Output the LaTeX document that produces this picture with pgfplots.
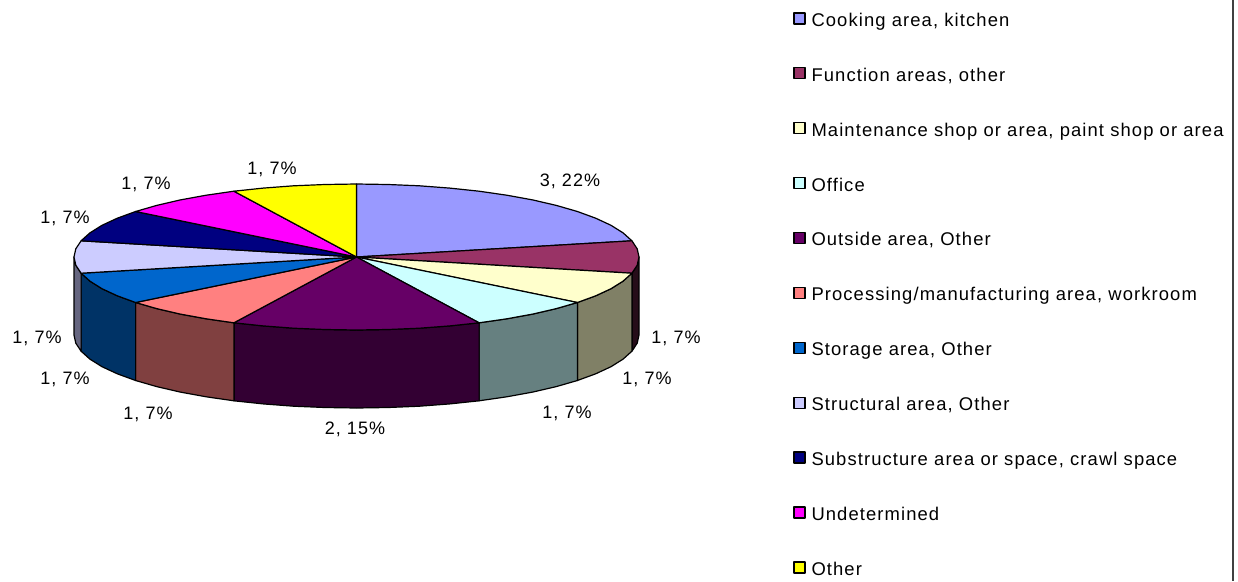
\documentclass[border=0pt]{standalone}
\usepackage{fontspec}
\setmainfont[LetterSpace=6]{Liberation Sans}
\usepackage{pgfplots}
\pgfplotsset{compat=1.18}

\definecolor{cCook}{HTML}{9999FF}
\definecolor{cFunc}{HTML}{993366}
\definecolor{cMaint}{HTML}{FFFFCC}
\definecolor{cOffice}{HTML}{CCFFFF}
\definecolor{cOut}{HTML}{660066}
\definecolor{cProc}{HTML}{FF8080}
\definecolor{cStor}{HTML}{0066CC}
\definecolor{cStruct}{HTML}{CCCCFF}
\definecolor{cSub}{HTML}{000080}
\definecolor{cUnd}{HTML}{FF00FF}
\definecolor{cOther}{HTML}{FFFF00}

\begin{document}
\fontsize{18pt}{20pt}\selectfont
\begin{tikzpicture}
\useasboundingbox (0,0) rectangle (1238pt,581pt);
\begin{axis}[
	anchor=south west,
	at={(0,0)},
	scale only axis,
	width=1238pt,
	height=581pt,
	xmin=0, xmax=1238,
	ymin=0, ymax=581,
	y dir=reverse,
	hide axis,
	clip=false,
	legend cell align=left,
	legend image code/.code={\draw[#1,line width=1.3pt] (0pt,-2pt) rectangle (11pt,9pt);},
	legend style={
		at={(axis cs:790,10)}, anchor=north west,
		draw=none, fill=none,
		row sep=36.75pt, column sep=6pt,
		nodes={inner sep=0pt, text height=13pt, text depth=4pt},
		font=\fontsize{18.4pt}{20pt}\selectfont,
	},
	every axis plot/.append style={line join=round},
]

% side walls
\addplot[forget plot, fill=black!75!cFunc, draw=black, line width=1.2pt] coordinates {
	(639,257)(637.2,265.2)(631.9,273.2)(631.9,351.2)(637.2,343.2)(639,335)} -- cycle;
\addplot[forget plot, fill=black!50!cMaint, draw=black, line width=1.2pt] coordinates {
	(631.9,273.2)(623.1,281.1)(611,288.7)(595.7,295.8)(577.4,302.5)
	(577.4,380.5)(595.7,373.8)(611,366.7)(623.1,359.1)(631.9,351.2)} -- cycle;
\addplot[forget plot, fill=black!50!cOffice, draw=black, line width=1.2pt] coordinates {
	(577.4,302.5)(556.3,308.6)(532.6,314.1)(506.8,318.8)(479.1,322.8)
	(479.1,400.8)(506.8,396.8)(532.6,392.1)(556.3,386.6)(577.4,380.5)} -- cycle;
\addplot[forget plot, fill=black!50!cOut, draw=black, line width=1.2pt] coordinates {
	(479.1,322.8)(449.8,325.9)(419.4,328.2)(388.1,329.5)(356.5,330)(324.9,329.5)(293.6,328.2)(263.2,325.9)(233.9,322.8)
	(233.9,400.8)(263.2,403.9)(293.6,406.2)(324.9,407.5)(356.5,408)(388.1,407.5)(419.4,406.2)(449.8,403.9)(479.1,400.8)} -- cycle;
\addplot[forget plot, fill=black!50!cProc, draw=black, line width=1.2pt] coordinates {
	(233.9,322.8)(206.2,318.8)(180.4,314.1)(156.7,308.6)(135.6,302.5)
	(135.6,380.5)(156.7,386.6)(180.4,392.1)(206.2,396.8)(233.9,400.8)} -- cycle;
\addplot[forget plot, fill=black!50!cStor, draw=black, line width=1.2pt] coordinates {
	(135.6,302.5)(117.3,295.8)(102,288.7)(89.9,281.1)(81.1,273.2)
	(81.1,351.2)(89.9,359.1)(102,366.7)(117.3,373.8)(135.6,380.5)} -- cycle;
\addplot[forget plot, fill=black!50!cStruct, draw=black, line width=1.2pt] coordinates {
	(81.1,273.2)(75.8,265.2)(74,257)(74,335)(75.8,343.2)(81.1,351.2)} -- cycle;

% top faces
\addplot[fill=cCook, draw=black, line width=1.2pt] coordinates {
	(356.5,257)(356.5,184)(388.1,184.5)(419.4,185.8)(449.8,188.1)(479.1,191.2)(506.8,195.2)(532.6,199.9)(556.3,205.4)(577.4,211.5)(595.7,218.2)(611,225.3)(623.1,232.9)(631.9,240.8)} -- cycle;
\addplot[fill=cFunc, draw=black, line width=1.2pt] coordinates {
	(356.5,257)(631.9,240.8)(637.2,248.8)(639,257)(637.2,265.2)(631.9,273.2)} -- cycle;
\addplot[fill=cMaint, draw=black, line width=1.2pt] coordinates {
	(356.5,257)(631.9,273.2)(623.1,281.1)(611,288.7)(595.7,295.8)(577.4,302.5)} -- cycle;
\addplot[fill=cOffice, draw=black, line width=1.2pt] coordinates {
	(356.5,257)(577.4,302.5)(556.3,308.6)(532.6,314.1)(506.8,318.8)(479.1,322.8)} -- cycle;
\addplot[fill=cOut, draw=black, line width=1.2pt] coordinates {
	(356.5,257)(479.1,322.8)(449.8,325.9)(419.4,328.2)(388.1,329.5)(356.5,330)(324.9,329.5)(293.6,328.2)(263.2,325.9)(233.9,322.8)} -- cycle;
\addplot[fill=cProc, draw=black, line width=1.2pt] coordinates {
	(356.5,257)(233.9,322.8)(206.2,318.8)(180.4,314.1)(156.7,308.6)(135.6,302.5)} -- cycle;
\addplot[fill=cStor, draw=black, line width=1.2pt] coordinates {
	(356.5,257)(135.6,302.5)(117.3,295.8)(102,288.7)(89.9,281.1)(81.1,273.2)} -- cycle;
\addplot[fill=cStruct, draw=black, line width=1.2pt] coordinates {
	(356.5,257)(81.1,273.2)(75.8,265.2)(74,257)(75.8,248.8)(81.1,240.8)} -- cycle;
\addplot[fill=cSub, draw=black, line width=1.2pt] coordinates {
	(356.5,257)(81.1,240.8)(89.9,232.9)(102,225.3)(117.3,218.2)(135.6,211.5)} -- cycle;
\addplot[fill=cUnd, draw=black, line width=1.2pt] coordinates {
	(356.5,257)(135.6,211.5)(156.7,205.4)(180.4,199.9)(206.2,195.2)(233.9,191.2)} -- cycle;
\addplot[fill=cOther, draw=black, line width=1.2pt] coordinates {
	(356.5,257)(233.9,191.2)(263.2,188.1)(293.6,185.8)(324.9,184.5)(356.5,184)} -- cycle;

\legend{{Cooking area, kitchen}, {Function areas, other},
	{Maintenance shop or area, paint shop or area}, Office, {Outside area, Other},
	{Processing/manufacturing area, workroom}, {Storage area, Other}, {Structural area, Other},
	{Substructure area or space, crawl space}, Undetermined, Other}

% right border
\addplot[forget plot, draw=black!75, line width=2pt] coordinates {(1233,0)(1233,581)};

% slice labels
\node at (axis cs:570,181) {3, 22\%};
\node at (axis cs:676,338.5) {1, 7\%};
\node at (axis cs:647,379.5) {1, 7\%};
\node at (axis cs:567,413) {1, 7\%};
\node at (axis cs:355,429) {2, 15\%};
\node at (axis cs:148,414) {1, 7\%};
\node at (axis cs:65,379.5) {1, 7\%};
\node at (axis cs:37,338.5) {1, 7\%};
\node at (axis cs:65,218) {1, 7\%};
\node at (axis cs:146,184) {1, 7\%};
\node at (axis cs:272,169.5) {1, 7\%};
\end{axis}
\end{tikzpicture}
\end{document}
